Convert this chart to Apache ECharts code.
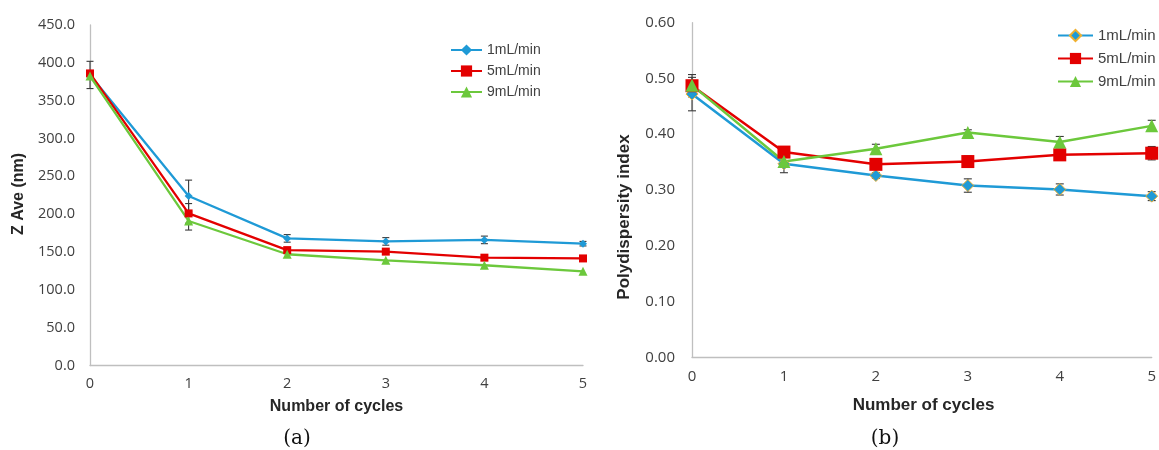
<!DOCTYPE html>
<html>
<head>
<meta charset="utf-8">
<script src="https://cdn.jsdelivr.net/npm/echarts@6/dist/echarts.min.js"></script>
<style>
  html, body { margin: 0; padding: 0; background: #ffffff; }
  #wrap { position: relative; width: 1159px; height: 450px; }
  .c { position: absolute; left: 0; top: 0; width: 1159px; height: 450px; }
</style>
</head>
<body>
<div id="wrap">
  <div id="chartA" class="c"></div>
  <div id="chartB" class="c"></div>
</div>
<script>
// ---------- data ----------
const cycles = [0, 1, 2, 3, 4, 5];
const seriesNames = ['1mL/min', '5mL/min', '9mL/min'];

// (a) Z Ave (nm)
const zave1 = [384, 224, 168, 164, 166, 161];
const zave5 = [386, 201, 152.5, 150.5, 142.5, 141.5];
const zave9 = [382.5, 191, 147, 139, 132.5, 124.5];
const zaveErr1 = [18, 21, 5, 5, 5, 3];
const zaveErr5 = [0, 13, 0, 0, 0, 0];
const zaveErr9 = [0, 12, 0, 0, 0, 0];
const zaveTicks = [0, 50, 100, 150, 200, 250, 300, 350, 400, 450];

// (b) Polydispersity index
const pdi1 = [0.472, 0.347, 0.326, 0.308, 0.301, 0.289];
const pdi5 = [0.487, 0.368, 0.346, 0.351, 0.363, 0.366];
const pdi9 = [0.488, 0.351, 0.374, 0.403, 0.386, 0.415];
const pdiErr1 = [0.03, 0.016, 0.005, 0.012, 0.01, 0.008];
const pdiErr5 = [0.02, 0, 0, 0.01, 0.01, 0.012];
const pdiErr9 = [0, 0, 0.008, 0.005, 0.01, 0.01];
const pdiTicks = [0, 0.1, 0.2, 0.3, 0.4, 0.5, 0.6];

// ---------- styles ----------
const BLUE = '#1f9ad6', RED = '#e30000', GREEN = '#6cc83c';
const AXIS = '#bfbfbf';
const ERR = '#3a3a3a';

function pairs(vals, errs) {
  return cycles.map((c, i) => [c, vals[i], errs[i]]);
}

function errSeries(vals, errs, cap) {
  return {
    type: 'custom',
    silent: true,
    z: 3,
    data: pairs(vals, errs),
    encode: { x: 0, y: 1 },
    renderItem: function (params, api) {
      const x = api.value(0), y = api.value(1), e = api.value(2);
      if (!e) return null;
      const t = api.coord([x, y + e]);
      const b = api.coord([x, y - e]);
      const st = { stroke: ERR, lineWidth: 1.1 };
      return {
        type: 'group',
        children: [
          { type: 'line', shape: { x1: t[0], y1: t[1], x2: b[0], y2: b[1] }, style: st },
          { type: 'line', shape: { x1: t[0] - cap, y1: t[1], x2: t[0] + cap, y2: t[1] }, style: st },
          { type: 'line', shape: { x1: b[0] - cap, y1: b[1], x2: b[0] + cap, y2: b[1] }, style: st }
        ]
      };
    }
  };
}

function lineSeries(name, vals, color, symbol, size, lw, border) {
  return {
    name: name,
    type: 'line',
    z: 4,
    data: cycles.map((c, i) => [c, vals[i]]),
    symbol: symbol,
    symbolSize: size,
    showSymbol: true,
    lineStyle: { color: color, width: lw },
    itemStyle: border
      ? { color: color, borderColor: border, borderWidth: 1 }
      : { color: color, borderWidth: 0 },
    emphasis: { disabled: true },
    animation: false
  };
}

// ---------- chart (a) ----------
const chartA = echarts.init(document.getElementById('chartA'), null, { renderer: 'canvas' });
chartA.setOption({
  animation: false,
  backgroundColor: 'transparent',
  grid: { left: 90, top: 25, width: 493, height: 340.5, containLabel: false },
  xAxis: {
    type: 'value', min: 0, max: 5, interval: 1,
    axisLine: { show: true, lineStyle: { color: AXIS, width: 1.3 } },
    axisTick: { show: false },
    splitLine: { show: false },
    axisLabel: { color: '#404040', fontFamily: 'Open Sans', fontSize: 14.5, margin: 11 }
  },
  yAxis: {
    type: 'value', min: zaveTicks[0], max: zaveTicks[zaveTicks.length - 1], interval: 50,
    axisLine: { show: true, lineStyle: { color: AXIS, width: 1.3 } },
    axisTick: { show: false },
    splitLine: { show: false },
    axisLabel: { color: '#404040', fontFamily: 'Open Sans', fontSize: 14.5, margin: 15,
      formatter: v => v.toFixed(1) }
  },
  legend: {
    orient: 'vertical', left: 450, top: 43, padding: 0, itemWidth: 31, itemHeight: 14, itemGap: 7,
    data: seriesNames,
    textStyle: { fontFamily: 'Liberation Sans', fontSize: 14, color: '#404040' },
    selectedMode: false
  },
  series: [
    errSeries(zave1, zaveErr1, 3.5),
    errSeries(zave5, zaveErr5, 3.5),
    errSeries(zave9, zaveErr9, 3.5),
    lineSeries(seriesNames[0], zave1, BLUE, 'diamond', 8, 2.3),
    lineSeries(seriesNames[1], zave5, RED, 'rect', 8, 2.3),
    lineSeries(seriesNames[2], zave9, GREEN, 'triangle', 9, 2.3)
  ],
  graphic: [
    { type: 'text', x: 19, y: 194, rotation: Math.PI / 2,
      style: { text: 'Z Ave (nm)', fontFamily: 'Liberation Sans', fontWeight: 'bold', fontSize: 16,
        fill: '#262626', textAlign: 'center', textVerticalAlign: 'middle' } },
    { type: 'text', x: 336.5, y: 407,
      style: { text: 'Number of cycles', fontFamily: 'Liberation Sans', fontWeight: 'bold', fontSize: 16,
        fill: '#262626', textAlign: 'center', textVerticalAlign: 'middle' } },
    { type: 'text', x: 297, y: 439,
      style: { text: '(a)', fontFamily: 'DejaVu Serif', fontSize: 20,
        fill: '#111111', textAlign: 'center', textVerticalAlign: 'middle' } }
  ]
});

// ---------- chart (b) ----------
const chartB = echarts.init(document.getElementById('chartB'), null, { renderer: 'canvas' });
chartB.setOption({
  animation: false,
  backgroundColor: 'transparent',
  grid: { left: 692, top: 22.7, width: 463, height: 334.6, containLabel: false },
  xAxis: {
    type: 'value', min: 0, max: 5, interval: 1,
    axisLine: { show: true, lineStyle: { color: AXIS, width: 1.3 } },
    axisTick: { show: false },
    splitLine: { show: false },
    axisLabel: { color: '#404040', fontFamily: 'Open Sans', fontSize: 15, margin: 12 }
  },
  yAxis: {
    type: 'value', min: pdiTicks[0], max: pdiTicks[pdiTicks.length - 1], interval: 0.1,
    axisLine: { show: true, lineStyle: { color: AXIS, width: 1.3 } },
    axisTick: { show: false },
    splitLine: { show: false },
    axisLabel: { color: '#404040', fontFamily: 'Open Sans', fontSize: 15, margin: 17,
      formatter: v => v.toFixed(2) }
  },
  legend: {
    orient: 'vertical', left: 1057, top: 28, padding: 0, itemWidth: 35, itemHeight: 14, itemGap: 8,
    data: seriesNames,
    textStyle: { fontFamily: 'Liberation Sans', fontSize: 15, color: '#404040' },
    selectedMode: false
  },
  series: [
    errSeries(pdi1, pdiErr1, 4),
    errSeries(pdi5, pdiErr5, 4),
    errSeries(pdi9, pdiErr9, 4),
    lineSeries(seriesNames[0], pdi1, BLUE, 'diamond', 12, 2.5, '#f0b030'),
    lineSeries(seriesNames[1], pdi5, RED, 'rect', 13, 2.5),
    lineSeries(seriesNames[2], pdi9, GREEN, 'triangle', 13, 2.5)
  ],
  graphic: [
    { type: 'text', x: 624, y: 217, rotation: Math.PI / 2,
      style: { text: 'Polydispersity index', fontFamily: 'Liberation Sans', fontWeight: 'bold', fontSize: 17,
        fill: '#262626', textAlign: 'center', textVerticalAlign: 'middle' } },
    { type: 'text', x: 923.5, y: 405,
      style: { text: 'Number of cycles', fontFamily: 'Liberation Sans', fontWeight: 'bold', fontSize: 17,
        fill: '#262626', textAlign: 'center', textVerticalAlign: 'middle' } },
    { type: 'text', x: 885, y: 439,
      style: { text: '(b)', fontFamily: 'DejaVu Serif', fontSize: 20,
        fill: '#111111', textAlign: 'center', textVerticalAlign: 'middle' } }
  ]
});
</script>
</body>
</html>
